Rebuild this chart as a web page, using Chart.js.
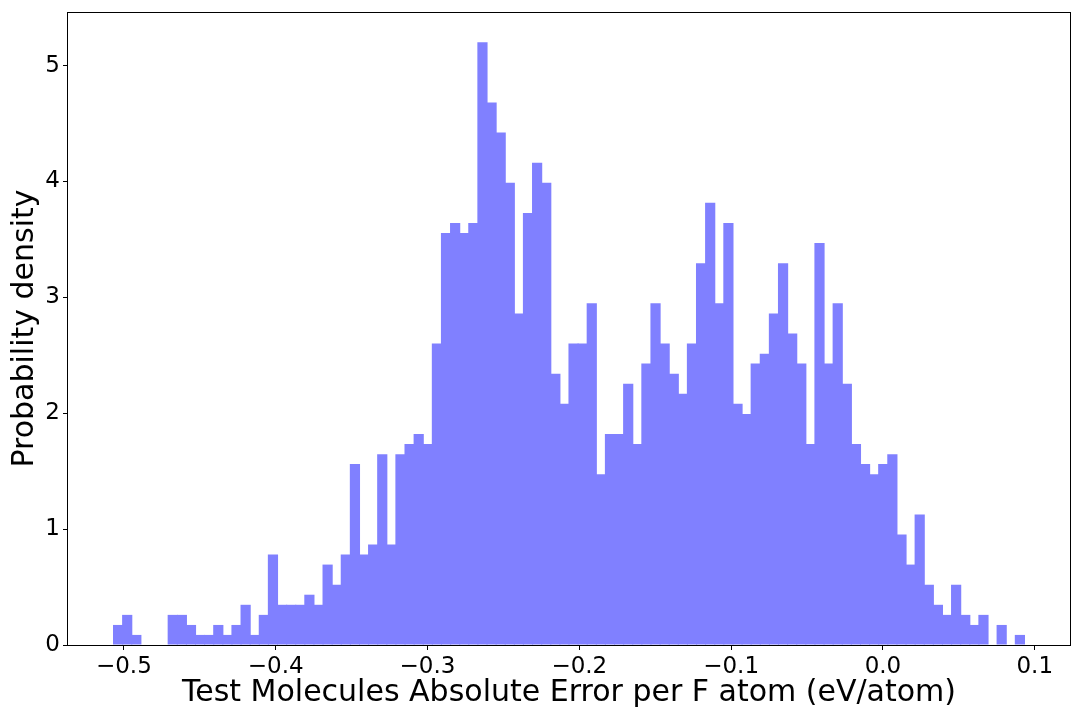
<!DOCTYPE html>
<html>
<head>
<meta charset="utf-8">
<script src="https://cdn.jsdelivr.net/npm/chart.js@4/dist/chart.umd.min.js"></script>
<style>
html,body{margin:0;padding:0;background:#fff;}
#wrap{width:1080px;height:720px;}
</style>
</head>
<body>
<div id="wrap"><canvas id="c" width="1080" height="720"></canvas></div>
<script>
// Bin centres (eV/atom), bin width 0.006
const binCenters = [
 -0.5038,-0.4978,-0.4918,-0.4858,-0.4798,-0.4738,-0.4678,-0.4618,-0.4558,-0.4498,
 -0.4438,-0.4378,-0.4318,-0.4258,-0.4198,-0.4138,-0.4078,-0.4018,-0.3958,-0.3898,
 -0.3838,-0.3778,-0.3718,-0.3658,-0.3598,-0.3538,-0.3478,-0.3418,-0.3358,-0.3298,
 -0.3238,-0.3178,-0.3118,-0.3058,-0.2998,-0.2938,-0.2878,-0.2818,-0.2758,-0.2698,
 -0.2638,-0.2578,-0.2518,-0.2458,-0.2398,-0.2338,-0.2278,-0.2218,-0.2158,-0.2098,
 -0.2038,-0.1978,-0.1918,-0.1858,-0.1798,-0.1738,-0.1678,-0.1618,-0.1558,-0.1498,
 -0.1438,-0.1378,-0.1318,-0.1258,-0.1198,-0.1138,-0.1078,-0.1018,-0.0958,-0.0898,
 -0.0838,-0.0778,-0.0718,-0.0658,-0.0598,-0.0538,-0.0478,-0.0418,-0.0358,-0.0298,
 -0.0238,-0.0178,-0.0118,-0.0058,0.0002,0.0062,0.0122,0.0182,0.0242,0.0302,
 0.0362,0.0422,0.0482,0.0542,0.0602,0.0662,0.0722,0.0782,0.0842,0.0902
];
// Probability density per bin
const densities = [
 0.173,0.260,0.087,0,0,0,0.260,0.260,0.173,0.087,
 0.087,0.173,0.087,0.173,0.347,0.087,0.260,0.780,0.347,0.347,
 0.347,0.434,0.347,0.694,0.520,0.780,1.561,0.780,0.867,1.647,
 0.867,1.647,1.734,1.821,1.734,2.601,3.555,3.641,3.555,3.641,
 5.202,4.682,4.422,3.988,2.861,3.728,4.162,3.988,2.341,2.081,
 2.601,2.601,2.948,1.474,1.821,1.821,2.254,1.734,2.428,2.948,
 2.601,2.341,2.168,2.601,3.295,3.815,2.948,3.641,2.081,1.994,
 2.428,2.514,2.861,3.295,2.688,2.428,1.734,3.468,2.428,2.948,
 2.254,1.734,1.561,1.474,1.561,1.647,0.954,0.694,1.127,0.520,
 0.347,0.260,0.520,0.260,0.173,0.260,0,0.173,0,0.087
];
const xTicks = [-0.5,-0.4,-0.3,-0.2,-0.1,0.0,0.1];
const xTickLabels = ['\u22120.5','\u22120.4','\u22120.3','\u22120.2','\u22120.1','0.0','0.1'];
const yTicks = [0,1,2,3,4,5];
const yTickLabels = ['0','1','2','3','4','5'];

const FONT = "'DejaVu Sans', 'Liberation Sans', sans-serif";

const frame = {
  id: 'frame',
  afterDraw(chart) {
    const a = chart.chartArea, ctx = chart.ctx;
    ctx.save();
    ctx.strokeStyle = '#000';
    ctx.lineWidth = 1;
    ctx.strokeRect(Math.round(a.left) - 0.5, Math.round(a.top) + 0.5, Math.round(a.right - a.left) + 1, Math.round(a.bottom - a.top));
    ctx.restore();
  }
};

new Chart(document.getElementById('c'), {
  type: 'bar',
  data: {
    datasets: [{
      data: binCenters.map((x, i) => ({x: x, y: densities[i]})),
      backgroundColor: '#8080ff',
      borderWidth: 0,
      inflateAmount: 0,
      barPercentage: 1.12,
      categoryPercentage: 1.0
    }]
  },
  options: {
    responsive: false,
    devicePixelRatio: 1,
    animation: false,
    layout: {padding: {top: 12, right: 10, left: 0, bottom: 0}},
    plugins: {legend: {display: false}, tooltip: {enabled: false}},
    scales: {
      x: {
        type: 'linear',
        min: -0.5368,
        max: 0.1232,
        offset: false,
        grid: {offset: false, drawOnChartArea: false, drawTicks: true, tickLength: 5, color: '#000'},
        border: {display: false},
        afterBuildTicks(s) { s.ticks = xTicks.map(v => ({value: v})); },
        afterFit(s) { s.height = 75; s.paddingLeft = 0; s.paddingRight = 0; },
        ticks: {
          color: '#000',
          font: {family: FONT, size: 23},
          padding: 3,
          maxRotation: 0,
          autoSkip: false,
          callback: (v) => { const i = xTicks.findIndex(t => Math.abs(t - v) < 1e-9); return i >= 0 ? xTickLabels[i] : ''; }
        },
        title: {
          display: true,
          text: 'Test Molecules Absolute Error per F atom (eV/atom)',
          color: '#000',
          font: {family: FONT, size: 30},
          padding: {top: 0, bottom: 9}
        }
      },
      y: {
        type: 'linear',
        min: 0,
        max: 5.462,
        grid: {drawOnChartArea: false, drawTicks: true, tickLength: 5, color: '#000'},
        border: {display: false},
        afterBuildTicks(s) { s.ticks = yTicks.map(v => ({value: v})); },
        afterFit(s) { s.width = 68; s.paddingTop = 0; s.paddingBottom = 0; },
        ticks: {
          color: '#000',
          font: {family: FONT, size: 23},
          padding: 3,
          autoSkip: false,
          callback: (v) => { const i = yTicks.indexOf(v); return i >= 0 ? yTickLabels[i] : ''; }
        },
        title: {
          display: true,
          text: 'Probability density',
          color: '#000',
          font: {family: FONT, size: 30},
          padding: {top: 7, bottom: 0}
        }
      }
    }
  },
  plugins: [frame]
});
</script>
</body>
</html>
